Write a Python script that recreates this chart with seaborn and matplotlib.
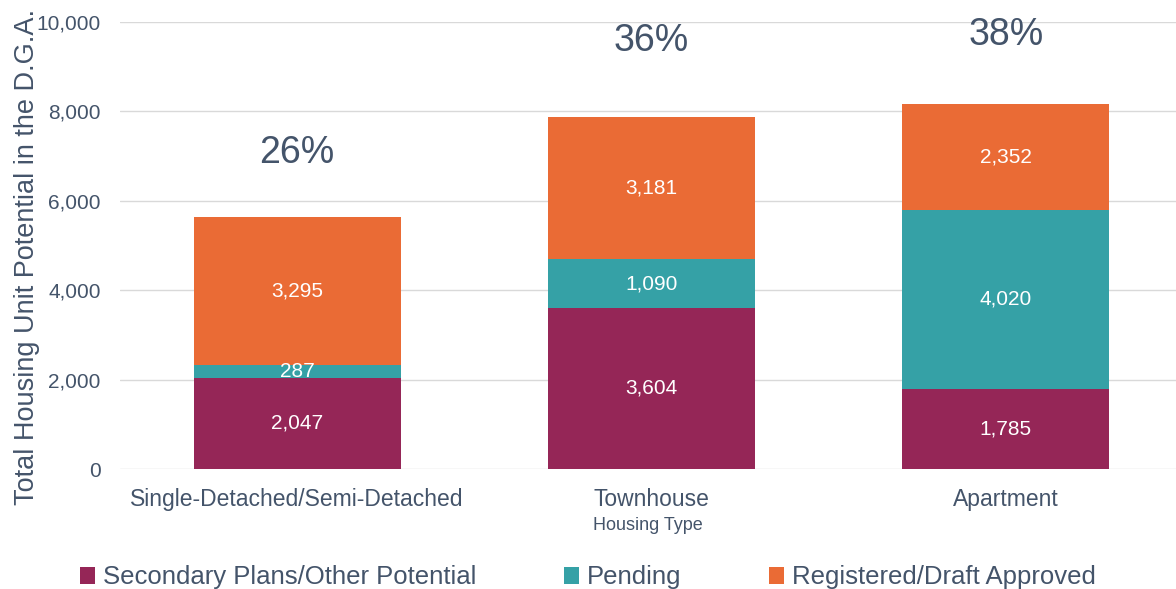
import matplotlib
matplotlib.use("Agg")
import matplotlib.pyplot as plt
import matplotlib.ticker as mticker
import seaborn as sns
import pandas as pd


# ==========================================
# DATA
# ==========================================

housing_types = ["Single-Detached/Semi-Detached", "Townhouse", "Apartment"]

secondary_plans = [2047, 3604, 1785]
pending = [287, 1090, 4020]
registered = [3295, 3181, 2352]

series_names = [
    "Secondary Plans/Other Potential",
    "Pending",
    "Registered/Draft Approved",
]

share_labels = ["26%", "36%", "38%"]
share_label_y = [7080, 9580, 9720]

colors = ["#952657", "#35A1A6", "#EA6B35"]
text_color = "#44546A"


# ==========================================
# STYLE
# ==========================================

sns.set_theme(style="whitegrid")
plt.rcParams["font.family"] = ["Liberation Sans", "DejaVu Sans"]

fig = plt.figure(figsize=(11.76, 5.89), dpi=100)
ax = fig.add_axes([0.102, 0.2037, 0.898, 0.7589])


# ==========================================
# STACKED BARS
# ==========================================

df = pd.DataFrame({"type": housing_types})
bottom = [0, 0, 0]

for name, values, color in zip(series_names, [secondary_plans, pending, registered], colors):
    df["value"] = values
    sns.barplot(
        data=df,
        x="type",
        y="value",
        color=color,
        width=0.584,
        bottom=bottom,
        linewidth=0,
        saturation=1,
        label=name,
        ax=ax,
    )
    container = ax.containers[-1]
    ax.bar_label(
        container,
        labels=[f"{v:,}" for v in values],
        label_type="center",
        color="white",
        fontsize=15,
    )
    bottom = [b + v for b, v in zip(bottom, values)]

for i, (lab, y) in enumerate(zip(share_labels, share_label_y)):
    ax.text(i, y, lab, ha="center", va="center", fontsize=27, color=text_color)


# ==========================================
# AXES
# ==========================================

ax.set_ylim(0, 10000)
ax.set_xlim(-0.5, 2.48)
ax.yaxis.set_major_locator(mticker.MultipleLocator(2000))
ax.yaxis.set_major_formatter(mticker.FuncFormatter(lambda v, p: f"{int(v):,}"))

ax.grid(axis="y", color="#D9D9D9", linewidth=1)
ax.grid(axis="x", visible=False)
for s in ax.spines.values():
    s.set_visible(False)

ax.tick_params(axis="y", labelsize=15, colors=text_color, pad=14, length=0)
ax.tick_params(axis="x", labelsize=16.5, colors=text_color, pad=14, length=0)

ax.set_xlabel("Housing Type", fontsize=13, color=text_color, labelpad=4)
ax.set_ylabel("Total Housing Unit Potential in the D.G.A.", fontsize=19.5,
              color=text_color, labelpad=4)
ax.yaxis.set_label_coords(-0.076, 0.475)

if ax.legend_:
    ax.legend_.remove()
handles, labels = ax.get_legend_handles_labels()
fig.legend(
    handles, labels,
    loc="lower center",
    bbox_to_anchor=(0.5, -0.04),
    ncol=3,
    frameon=False,
    fontsize=18.5,
    labelcolor=text_color,
    handlelength=0.6,
    handleheight=0.6,
    handletextpad=0.3,
    columnspacing=3.4,
)

fig.savefig("out.png", dpi=100)
